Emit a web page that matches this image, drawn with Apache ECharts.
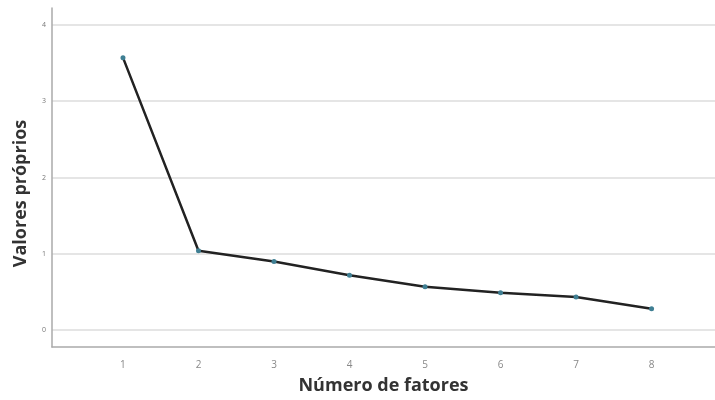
<!DOCTYPE html>
<html>
<head>
<meta charset="utf-8">
<script src="https://cdn.jsdelivr.net/npm/echarts@6/dist/echarts.min.js"></script>
<style>html,body{margin:0;padding:0;background:#fff}#c{width:715px;height:400px}</style>
</head>
<body>
<div id="c"></div>
<script>
const factors = [1, 2, 3, 4, 5, 6, 7, 8];
const eigenvalues = [3.57, 1.04, 0.90, 0.72, 0.57, 0.49, 0.435, 0.28];
const xTicks = [1, 2, 3, 4, 5, 6, 7, 8];
const yTicks = [0, 1, 2, 3, 4];

const chart = echarts.init(document.getElementById('c'), null, {renderer: 'canvas'});
chart.setOption({
  backgroundColor: '#fff',
  animation: false,
  textStyle: {fontFamily: 'Open Sans'},
  grid: {left: 52, right: 0, top: 8, bottom: 52, containLabel: false},
  xAxis: {
    type: 'value', min: 0.06, max: 8.84,
    name: 'Número de fatores', nameLocation: 'middle', nameGap: 30,
    nameTextStyle: {fontSize: 18, fontWeight: 'bold', color: '#333', fontFamily: 'Open Sans'},
    axisLine: {show: true, onZero: false, lineStyle: {color: '#aaa', width: 1.5}},
    axisTick: {show: false, customValues: xTicks},
    axisLabel: {customValues: xTicks, color: '#888', fontSize: 10, margin: 13},
    splitLine: {show: false}
  },
  yAxis: {
    type: 'value', min: -0.22, max: 4.22,
    name: 'Valores próprios', nameLocation: 'middle', nameGap: 22,
    nameTextStyle: {fontSize: 18, fontWeight: 'bold', color: '#333', fontFamily: 'Open Sans', padding: [0, 32, 0, 0]},
    axisLine: {show: true, onZero: false, lineStyle: {color: '#aaa', width: 1.5}},
    axisTick: {show: false, customValues: yTicks},
    axisLabel: {customValues: yTicks, color: '#777', fontSize: 7, margin: 6},
    splitLine: {show: true, lineStyle: {color: '#ddd', width: 1.5}}
  },
  series: [{
    type: 'line',
    data: factors.map((f, i) => [f, eigenvalues[i]]),
    lineStyle: {color: '#222', width: 2.5},
    symbol: 'circle', symbolSize: 5,
    itemStyle: {color: '#3f7f93'},
    z: 3
  }]
});
</script>
</body>
</html>
